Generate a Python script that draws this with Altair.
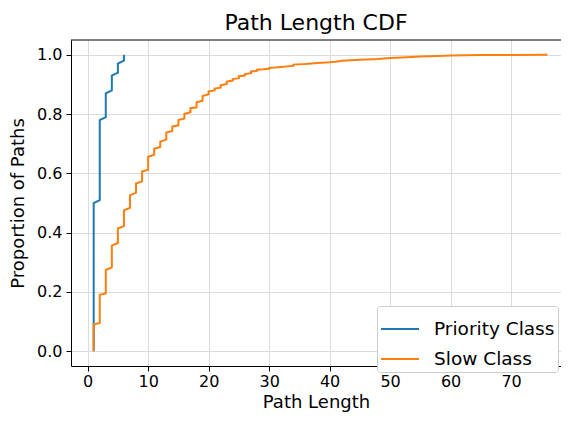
import altair as alt
import pandas as pd

series_names = ["Priority Class", "Slow Class"]
series_colors = ["#1f77b4", "#ff7f0e"]

priority_x = [1, 1, 2, 2, 3, 3, 4, 4, 5, 5, 6, 6]
priority_y = [0.0, 0.50, 0.51, 0.78, 0.79, 0.87, 0.88, 0.93, 0.94, 0.97, 0.98, 1.0]

slow_x = [1, 1, 2, 2, 3, 3, 4, 4, 5, 5, 6, 6, 7, 7, 8, 8, 9, 9, 10, 10,
          11, 11, 12, 12, 13, 13, 14, 14, 15, 15, 16, 16, 17, 17, 18, 18,
          19, 19, 20, 20, 21, 21, 22, 22, 23, 23, 24, 24, 25, 25, 26, 26,
          27, 27, 28, 28, 29, 30, 30, 31, 32, 33, 34, 34, 36, 38, 40, 41,
          42, 45, 48, 50, 52, 55, 58, 60, 65, 70, 76]
slow_y = [0.0, 0.09, 0.095, 0.19, 0.195, 0.274, 0.283, 0.356, 0.365, 0.414,
          0.422, 0.475, 0.484, 0.526, 0.535, 0.566, 0.573, 0.606, 0.612, 0.656,
          0.663, 0.683, 0.689, 0.707, 0.714, 0.738, 0.743, 0.758, 0.762, 0.780,
          0.785, 0.801, 0.806, 0.820, 0.823, 0.840, 0.845, 0.861, 0.867, 0.877,
          0.880, 0.886, 0.889, 0.897, 0.902, 0.910, 0.913, 0.918, 0.921, 0.928,
          0.930, 0.935, 0.938, 0.944, 0.946, 0.950, 0.951, 0.953, 0.956, 0.957,
          0.959, 0.961, 0.963, 0.967, 0.969, 0.972, 0.975, 0.977, 0.980, 0.983,
          0.986, 0.989, 0.991, 0.994, 0.996, 0.998, 0.999, 0.9995, 1.0]

x_ticks = [0, 10, 20, 30, 40, 50, 60, 70]
y_ticks = [0.0, 0.2, 0.4, 0.6, 0.8, 1.0]

rows = []
for i, (x, y) in enumerate(zip(priority_x, priority_y)):
    rows.append({"series": series_names[0], "x": x, "y": y, "i": i})
for i, (x, y) in enumerate(zip(slow_x, slow_y)):
    rows.append({"series": series_names[1], "x": x, "y": y, "i": i})
df = pd.DataFrame(rows)

FONT = "DejaVu Sans"
W, H = 490, 326

lines = alt.Chart(df).mark_line(strokeWidth=2).encode(
    x=alt.X("x:Q", title="Path Length",
            scale=alt.Scale(domain=[-2.75, 78.25], nice=False, zero=False),
            axis=alt.Axis(values=x_ticks, format="d", tickSize=5, labelPadding=2,
                          titlePadding=4)),
    y=alt.Y("y:Q", title="Proportion of Paths",
            scale=alt.Scale(domain=[-0.05, 1.05], nice=False, zero=False),
            axis=alt.Axis(values=y_ticks, format=".1f", tickSize=5, labelPadding=4,
                          titlePadding=9)),
    color=alt.Color("series:N", title=None,
                    scale=alt.Scale(domain=series_names, range=series_colors),
                    legend=alt.Legend(orient="none", legendX=306, legendY=266,
                                      symbolType="stroke", symbolSize=1444,
                                      symbolStrokeWidth=2, labelFontSize=18.5,
                                      labelFont=FONT, labelColor="black",
                                      labelOffset=14, rowPadding=0,
                                      padding=3, fillColor="white",
                                      strokeColor="#cccccc", cornerRadius=3)),
    order=alt.Order("i:Q"),
)

# top spine of the frame (the right spine lies outside the picture)
top_spine = alt.Chart(pd.DataFrame({"k": [0]})).mark_rule(
    color="black", strokeWidth=1
).encode(x=alt.value(0), x2=alt.value(W), y=alt.value(0))

chart = alt.layer(lines, top_spine).properties(
    width=W,
    height=H,
    title=alt.TitleParams("Path Length CDF", fontSize=22, font=FONT,
                          fontWeight="normal", color="black", offset=5),
    autosize=alt.AutoSizeParams(type="none"),
    padding={"left": 63, "top": 32, "right": 0, "bottom": 46},
).configure_view(
    stroke=None
).configure_axis(
    labelFont=FONT, titleFont=FONT, labelFontSize=16, titleFontSize=18,
    labelColor="black", titleColor="black", titleFontWeight="normal",
    domainColor="black", tickColor="black", gridColor="#dcdcdc", gridWidth=1,
)

chart.save("out.html", embed_options={"renderer": "svg", "actions": False})
